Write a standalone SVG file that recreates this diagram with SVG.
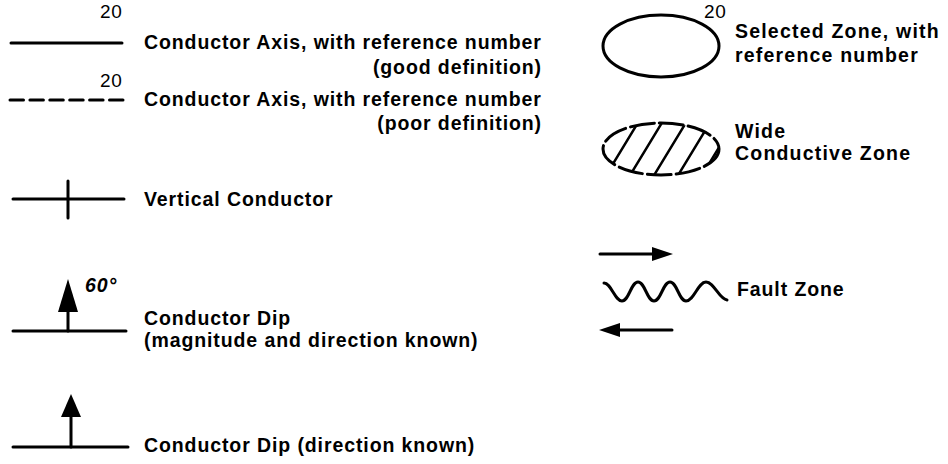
<svg xmlns="http://www.w3.org/2000/svg" width="948" height="464" viewBox="0 0 948 464">
<style>
  .t { font-family: "Liberation Sans", Arial, sans-serif; font-weight: bold; font-size: 19.5px; letter-spacing: 0.9px; fill: #000; }
  .r { letter-spacing: 1.2px; }
  .n { font-family: "Liberation Sans", Arial, sans-serif; font-size: 19px; letter-spacing: 0.6px; fill: #000; }
  .ln { stroke: #000; stroke-width: 3; fill: none; stroke-linecap: round; }
  .hd { fill: #000; stroke: none; }
</style>
<defs>
  <clipPath id="hatchClip"><ellipse cx="661" cy="149" rx="58" ry="26"/></clipPath>
</defs>
<rect width="948" height="464" fill="#fff"/>

<g id="axis-good">
  <line class="ln" x1="11" y1="43" x2="122" y2="43"/>
  <text class="n" x="100" y="18">20</text>
  <text class="t" x="144" y="49">Conductor Axis, with reference number</text>
  <text class="t" x="542" y="74" text-anchor="end">(good definition)</text>
</g>

<g id="axis-poor">
  <line class="ln" x1="10" y1="100" x2="123" y2="100" stroke-dasharray="13.5 6.4" stroke-linecap="butt"/>
  <text class="n" x="100" y="87">20</text>
  <text class="t" x="144" y="106">Conductor Axis, with reference number</text>
  <text class="t" x="542" y="130" text-anchor="end">(poor definition)</text>
</g>

<g id="vertical-conductor">
  <line class="ln" x1="13" y1="199" x2="124" y2="199"/>
  <line class="ln" x1="68" y1="181" x2="68" y2="218"/>
  <text class="t" x="144" y="206">Vertical Conductor</text>
</g>

<g id="dip-magnitude">
  <line class="ln" x1="13" y1="331" x2="126" y2="331"/>
  <line class="ln" x1="68" y1="308" x2="68" y2="331"/>
  <polygon class="hd" points="68,279 78,312 58,312"/>
  <text class="t" x="85" y="292" font-style="italic">60°</text>
  <text class="t" x="144" y="325">Conductor Dip</text>
  <text class="t" x="144" y="347">(magnitude and direction known)</text>
</g>

<g id="dip-direction">
  <line class="ln" x1="13" y1="447" x2="128" y2="447"/>
  <line class="ln" x1="71" y1="412" x2="71" y2="447"/>
  <polygon class="hd" points="71,394 81,417 61,417"/>
  <text class="t" x="144" y="452">Conductor Dip (direction known)</text>
</g>

<g id="selected-zone">
  <ellipse class="ln" cx="661" cy="46" rx="58" ry="31"/>
  <text class="n" x="704" y="18">20</text>
  <text class="t r" x="735" y="38">Selected Zone, with</text>
  <text class="t r" x="735" y="62">reference number</text>
</g>

<g id="wide-zone">
  <ellipse class="ln" cx="661" cy="149" rx="58" ry="26" stroke-dasharray="24 5" stroke-linecap="butt"/>
  <g clip-path="url(#hatchClip)" class="ln" style="stroke-width:2.5">
    <line x1="605" y1="177" x2="639" y2="121"/>
    <line x1="629" y1="177" x2="663" y2="121"/>
    <line x1="653" y1="177" x2="687" y2="121"/>
    <line x1="677" y1="177" x2="711" y2="121"/>
    <line x1="701" y1="177" x2="735" y2="121"/>
  </g>
  <text class="t r" x="735" y="138">Wide</text>
  <text class="t r" x="735" y="160">Conductive Zone</text>
</g>

<g id="fault-zone">
  <line class="ln" x1="600" y1="254" x2="656" y2="254"/>
  <polygon class="hd" points="673,254 652,247 652,261"/>
  <path class="ln" d="M604,283 C611,283 615,301 622,301 C629,301 631,282 638,282 C645,282 647,301 654,301 C661,301 663,282 670,282 C677,282 679,301 686,301 C694,301 698,282 706,282 C714,282 719,299 727,300"/>
  <line class="ln" x1="616" y1="330" x2="672" y2="330"/>
  <polygon class="hd" points="599,330 620,323 620,337"/>
  <text class="t" x="737" y="296">Fault Zone</text>
</g>
</svg>
